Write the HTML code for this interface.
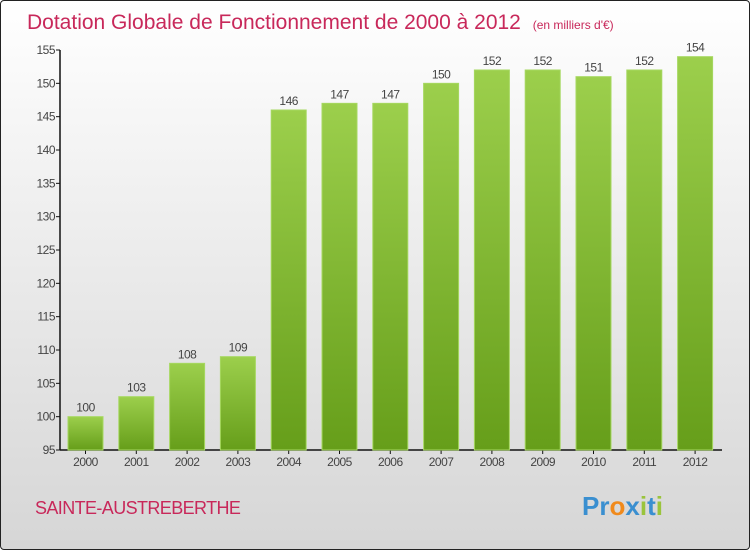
<!DOCTYPE html>
<html><head><meta charset="utf-8"><style>
body{margin:0;width:750px;height:550px;overflow:hidden;font-family:"Liberation Sans",sans-serif}
#frame{position:absolute;left:0;top:0;width:748px;height:548px;border:1px solid #222;border-radius:4px;background:linear-gradient(#ffffff 0%,#eeeeee 40%,#d6d6d6 100%)}
</style></head><body>
<div id="frame">
<svg width="750" height="550" style="position:absolute;left:-1px;top:-1px">
<defs><linearGradient id="g" x1="0" y1="0" x2="0" y2="1"><stop offset="0" stop-color="#9ccf4c"/><stop offset="1" stop-color="#669e1a"/></linearGradient></defs>
<text x="27" y="29" font-size="21" fill="#c8285a">Dotation Globale de Fonctionnement de 2000 à 2012 <tspan font-size="12" dx="6">(en milliers d'€)</tspan></text>
<g id="axes"></g><g id="bars"></g>
<text x="35" y="514" font-size="18" fill="#c8285a" letter-spacing="-0.6">SAINTE-AUSTREBERTHE</text>
<text x="582" y="515" font-size="26" font-weight="bold"><tspan fill="#3a8fd0">Pr</tspan><tspan fill="#f08a1c">o</tspan><tspan fill="#3a8fd0">x</tspan><tspan fill="#9ac43c">i</tspan><tspan fill="#3a8fd0">t</tspan><tspan fill="#9ac43c">i</tspan></text>
</svg></div>
<script>
const years=["2000","2001","2002","2003","2004","2005","2006","2007","2008","2009","2010","2011","2012"];
const values=[100,103,108,109,146,147,147,150,152,152,151,152,154];
const ticks=[95,100,105,110,115,120,125,130,135,140,145,150,155];
const NS="http://www.w3.org/2000/svg";
const y=v=>450-(v-95)*400/60;
const x=i=>85.5+i*50.8;
function mk(t,a,p){const e=document.createElementNS(NS,t);for(const k in a)e.setAttribute(k,a[k]);p.appendChild(e);return e;}
const ax=document.getElementById('axes'),bg=document.getElementById('bars');
const yl=mk('line',{x1:60,y1:50,x2:60,y2:450,stroke:'#111','stroke-width':1.5},ax);


const xl=mk('line',{x1:60,y1:450,x2:722,y2:450,stroke:'#111','stroke-width':1.5},ax);


ticks.forEach(t=>{
 mk('line',{x1:56,y1:y(t),x2:60,y2:y(t),stroke:'#111'},ax);
 const tx=mk('text',{x:55,y:y(t)+4,'font-size':12,fill:'#444','text-anchor':'end','letter-spacing':'-0.5'},ax);
 tx.textContent=t;
 
 
});
years.forEach((yr,i)=>{
 const r=mk('rect',{x:x(i)-17.5,y:y(values[i]),width:35,height:450-y(values[i]),fill:'url(#g)',stroke:'#a6d860','stroke-width':1},bg);
 
 
 const v=mk('text',{x:x(i),y:y(values[i])-5,'font-size':12,fill:'#444','text-anchor':'middle','letter-spacing':'-0.5'},bg);
 v.textContent=values[i];
 
 
 mk('line',{x1:x(i),y1:450,x2:x(i),y2:454,stroke:'#111'},ax);
 const l=mk('text',{x:x(i),y:466,'font-size':12,fill:'#444','text-anchor':'middle','letter-spacing':'-0.5'},ax);
 l.textContent=yr;
 
 
});
</script>
</body></html>
